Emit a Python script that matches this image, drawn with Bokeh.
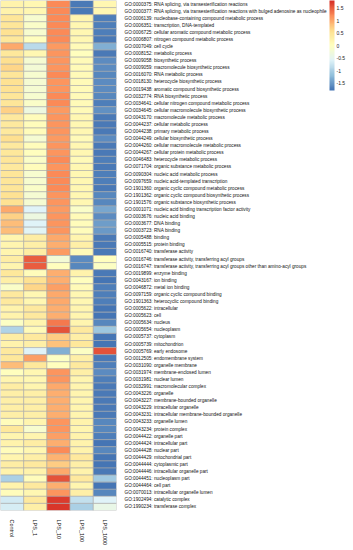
import math
import numpy as np
from bokeh.plotting import figure
from bokeh.models import (ColumnDataSource, LinearColorMapper, ColorBar, FixedTicker,
                          CustomJSTickFormatter)
from bokeh.embed import file_html
from bokeh.resources import INLINE

samples = ["Control", "LPS_1", "LPS_10", "LPS_100", "LPS_1000"]

terms = [
    "GO:0000375: RNA splicing, via transesterification reactions",
    "GO:0000377: RNA splicing, via transesterification reactions with bulged adenosine as nucleophile",
    "GO:0006139: nucleobase-containing compound metabolic process",
    "GO:0006351: transcription, DNA-templated",
    "GO:0006725: cellular aromatic compound metabolic process",
    "GO:0006807: nitrogen compound metabolic process",
    "GO:0007049: cell cycle",
    "GO:0008152: metabolic process",
    "GO:0009058: biosynthetic process",
    "GO:0009059: macromolecule biosynthetic process",
    "GO:0016070: RNA metabolic process",
    "GO:0018130: heterocycle biosynthetic process",
    "GO:0019438: aromatic compound biosynthetic process",
    "GO:0032774: RNA biosynthetic process",
    "GO:0034641: cellular nitrogen compound metabolic process",
    "GO:0034645: cellular macromolecule biosynthetic process",
    "GO:0043170: macromolecule metabolic process",
    "GO:0044237: cellular metabolic process",
    "GO:0044238: primary metabolic process",
    "GO:0044249: cellular biosynthetic process",
    "GO:0044260: cellular macromolecule metabolic process",
    "GO:0044267: cellular protein metabolic process",
    "GO:0046483: heterocycle metabolic process",
    "GO:0071704: organic substance metabolic process",
    "GO:0090304: nucleic acid metabolic process",
    "GO:0097659: nucleic acid-templated transcription",
    "GO:1901360: organic cyclic compound metabolic process",
    "GO:1901362: organic cyclic compound biosynthetic process",
    "GO:1901576: organic substance biosynthetic process",
    "GO:0001071: nucleic acid binding transcription factor activity",
    "GO:0003676: nucleic acid binding",
    "GO:0003677: DNA binding",
    "GO:0003723: RNA binding",
    "GO:0005488: binding",
    "GO:0005515: protein binding",
    "GO:0016740: transferase activity",
    "GO:0016746: transferase activity, transferring acyl groups",
    "GO:0016747: transferase activity, transferring acyl groups other than amino-acyl groups",
    "GO:0019899: enzyme binding",
    "GO:0043167: ion binding",
    "GO:0046872: metal ion binding",
    "GO:0097159: organic cyclic compound binding",
    "GO:1901363: heterocyclic compound binding",
    "GO:0005622: intracellular",
    "GO:0005623: cell",
    "GO:0005634: nucleus",
    "GO:0005654: nucleoplasm",
    "GO:0005737: cytoplasm",
    "GO:0005739: mitochondrion",
    "GO:0005769: early endosome",
    "GO:0012505: endomembrane system",
    "GO:0031090: organelle membrane",
    "GO:0031974: membrane-enclosed lumen",
    "GO:0031981: nuclear lumen",
    "GO:0032991: macromolecular complex",
    "GO:0043226: organelle",
    "GO:0043227: membrane-bounded organelle",
    "GO:0043229: intracellular organelle",
    "GO:0043231: intracellular membrane-bounded organelle",
    "GO:0043233: organelle lumen",
    "GO:0043234: protein complex",
    "GO:0044422: organelle part",
    "GO:0044424: intracellular part",
    "GO:0044428: nuclear part",
    "GO:0044429: mitochondrial part",
    "GO:0044444: cytoplasmic part",
    "GO:0044446: intracellular organelle part",
    "GO:0044451: nucleoplasm part",
    "GO:0044464: cell part",
    "GO:0070013: intracellular organelle lumen",
    "GO:1902494: catalytic complex",
    "GO:1990234: transferase complex",
]

# row-scaled values, one list per sample column (same order as terms)
control = [0.25, 0.25, 0.5, 0.5, 0.55, 0.45, 1.0, 0.45, 0.6, 0.65,
           0.5, 0.55, 0.55, 0.5, 0.5, 0.7, 0.4, 0.4, 0.4, 0.6,
           0.4, 0.45, 0.5, 0.4, 0.5, 0.5, 0.5, 0.55, 0.55, 1.0,
           0.7, 0.85, 0.85, 0.2, 0.2, 0.2, 0.35, 0.2, 0.45, 0.3,
           -0.1, 0.4, 0.4, 0.25, 0.25, -0.05, -0.95, 0.35, 0.25, 0.4,
           0.45, 0.85, 0.0, 0.2, 0.35, 0.3, 0.3, 0.3, 0.3, 0.05,
           0.45, 0.2, 0.25, 0.05, 0.2, 0.35, 0.25, -1.0, 0.25, 0.05,
           -0.7, -0.65]
lps_1 = [0.15, 0.15, -0.15, -0.1, -0.15, 0.0, -0.9, 0.15, -0.2, -0.25,
         -0.15, -0.2, -0.2, -0.15, -0.1, -0.35, 0.05, 0.05, 0.05, -0.2,
         0.05, 0.0, -0.1, 0.05, -0.15, -0.15, -0.1, -0.2, -0.2, -0.6,
         -0.35, -0.6, -0.55, 0.35, 0.3, 0.35, 1.5, 1.5, 0.05, 0.55,
         0.65, 0.15, 0.15, 0.4, 0.4, 0.2, 0.1, 0.4, 0.3, -0.6,
         1.05, 0.45, 0.15, 0.15, 0.2, 0.3, 0.3, 0.3, 0.3, 0.2,
         -0.15, 0.2, 0.35, 0.15, 0.3, 0.4, 0.25, 0.05, 0.4, 0.15,
         0.4, 0.3]
lps_10 = [1.2, 1.2, 1.2, 1.2, 1.2, 1.2, 1.1, 1.15, 1.15, 1.15,
          1.2, 1.15, 1.15, 1.2, 1.2, 1.1, 1.15, 1.15, 1.15, 1.1,
          1.15, 1.15, 1.2, 1.15, 1.2, 1.2, 1.2, 1.15, 1.15, 1.1,
          1.15, 1.15, 1.15, 1.0, 0.95, 1.1, -0.25, 0.0, 0.95, 0.95,
          1.05, 1.0, 1.0, 0.95, 0.95, 1.3, 1.55, 0.75, 0.8, -1.3,
          -0.05, 0.0, 1.15, 1.15, 1.0, 0.95, 0.95, 0.95, 0.95, 1.15,
          1.15, 1.05, 0.95, 1.2, 0.9, 0.75, 1.0, 1.55, 0.95, 1.15,
          1.7, 1.75]
lps_100 = [-1.75, -1.75, 0.2, 0.15, 0.15, 0.15, 0.1, 0.0, 0.1, 0.1,
           0.1, 0.1, 0.1, 0.1, 0.1, 0.1, 0.15, 0.15, 0.15, 0.1,
           0.15, 0.15, 0.1, 0.15, 0.15, 0.15, 0.15, 0.15, 0.15, -0.1,
           0.1, 0.05, 0.05, 0.2, 0.3, 0.1, -1.6, -1.65, 0.25, 0.0,
           0.1, 0.15, 0.15, 0.2, 0.2, 0.2, 0.4, 0.3, 0.45, -0.05,
           0.3, 0.4, 0.3, 0.2, 0.2, 0.2, 0.2, 0.2, 0.2, 0.25,
           0.2, 0.25, 0.25, 0.25, 0.4, 0.3, 0.25, 0.4, 0.2, 0.3,
           -0.8, -1.0]
lps_1000 = [0.15, 0.15, -1.7, -1.7, -1.7, -1.75, -1.3, -1.75, -1.6, -1.6,
            -1.65, -1.6, -1.6, -1.65, -1.7, -1.55, -1.75, -1.75, -1.75, -1.6,
            -1.75, -1.75, -1.7, -1.75, -1.7, -1.7, -1.75, -1.65, -1.65, -1.4,
            -1.6, -1.45, -1.5, -1.75, -1.75, -1.75, 0.0, -0.05, -1.75, -1.8,
            -1.7, -1.7, -1.7, -1.8, -1.8, -1.65, -1.1, -1.8, -1.8, 1.55,
            -1.75, -1.7, -1.6, -1.7, -1.75, -1.75, -1.75, -1.75, -1.75, -1.65,
            -1.65, -1.7, -1.8, -1.65, -1.8, -1.8, -1.75, -1.05, -1.8, -1.65,
            -0.6, -0.4]

columns = [control, lps_1, lps_10, lps_100, lps_1000]

xs, ys, vals = [], [], []
for s, col in zip(samples, columns):
    for t, v in zip(terms, col):
        xs.append(s)
        ys.append(t)
        vals.append(v)
src = ColumnDataSource(dict(sample=xs, term=ys, value=vals))

# pheatmap default: colorRampPalette(rev(brewer.pal(7, "RdYlBu")))(100)
anchors = ["#4575B4", "#91BFDB", "#E0F3F8", "#FFFFBF", "#FEE090", "#FC8D59", "#D73027"]
rgb = np.array([[int(c[i:i + 2], 16) for i in (1, 3, 5)] for c in anchors], dtype=float)
pos = np.linspace(0, 1, len(anchors))
tt = np.linspace(0, 1, 100)
palette = ["#%02x%02x%02x" % tuple(int(round(np.interp(t, pos, rgb[:, k]))) for k in range(3))
           for t in tt]

mapper = LinearColorMapper(palette=palette, low=-1.8, high=1.8)

FONT = "'Liberation Sans', Arial, sans-serif"

p = figure(x_range=samples, y_range=list(reversed(terms)),
           frame_width=116, frame_height=510,
           min_border_left=0, min_border_top=0, min_border_right=0, min_border_bottom=0,
           y_axis_location="right", x_axis_location="below",
           output_backend="svg", toolbar_location=None)

p.rect(x="sample", y="term", width=1, height=1, source=src,
       fill_color={"field": "value", "transform": mapper},
       line_color="#a8a8a8", line_width=0.6)

p.grid.grid_line_color = None
p.outline_line_color = None
p.axis.axis_line_color = None
p.axis.major_tick_line_color = None
p.axis.minor_tick_line_color = None
p.axis.major_label_text_font = FONT
p.axis.major_label_text_color = "#111111"
p.yaxis.major_label_text_font_size = "4.7px"
p.yaxis.major_label_standoff = 2
p.xaxis.major_label_text_font_size = "5.5px"
p.xaxis.major_label_orientation = -math.pi / 2
p.xaxis.major_label_standoff = 3

cb = ColorBar(color_mapper=mapper, width=5, height=90, location="top_left",
              ticker=FixedTicker(ticks=[-1.5, -1, -0.5, 0, 0.5, 1, 1.5]),
              formatter=CustomJSTickFormatter(code="return tick.toString()"),
              major_tick_line_color=None, minor_tick_line_color=None,
              bar_line_color=None, border_line_color=None,
              background_fill_alpha=0,
              major_label_text_font=FONT,
              major_label_text_font_size="5px",
              major_label_text_color="#222222",
              label_standoff=2, padding=0, margin=3)
p.add_layout(cb, "right")

open("out.html", "w").write(file_html(p, INLINE))
